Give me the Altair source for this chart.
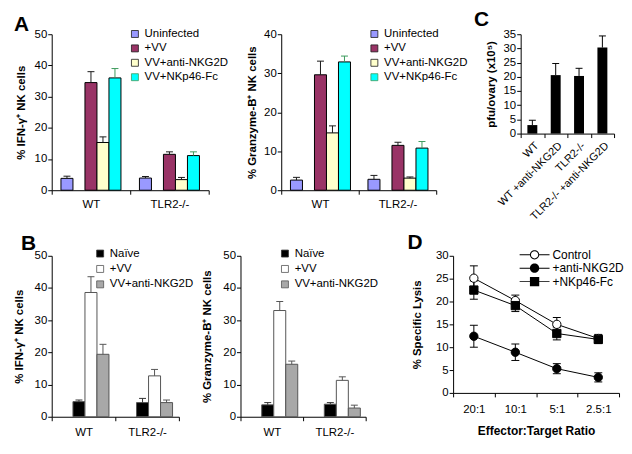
import altair as alt
import pandas as pd

FONT = "Liberation Sans"

# ---------------- data ----------------
groups = ["WT", "TLR2-/-"]

a_series = ["Uninfected", "+VV", "VV+anti-NKG2D", "VV+NKp46-Fc"]
a_fill = ["#9999ff", "#993366", "#ffffcc", "#00ffff"]
a_errc = ["#1a1a1a", "#1a1a1a", "#1a1a1a", "#3c9a5c"]

ifn_a_wt = [3.8, 34.5, 15.3, 36.0]
ifn_a_wt_top = [4.5, 38.0, 17.1, 39.0]
ifn_a_tlr = [3.9, 11.5, 3.4, 11.1]
ifn_a_tlr_top = [4.4, 12.3, 4.1, 12.3]

gzm_a_wt = [2.6, 29.6, 14.7, 32.9]
gzm_a_wt_top = [3.3, 33.1, 16.5, 34.4]
gzm_a_tlr = [2.8, 11.5, 3.1, 10.8]
gzm_a_tlr_top = [3.8, 12.3, 3.4, 12.5]

b_series = ["Naïve", "+VV", "VV+anti-NKG2D"]
b_fill = ["#000000", "#ffffff", "#a8a8a8"]
b_errc = ["#333333", "#555555", "#555555"]

ifn_b_wt = [4.7, 38.6, 19.4]
ifn_b_wt_top = [5.2, 43.5, 22.5]
ifn_b_tlr = [4.4, 12.7, 4.4]
ifn_b_tlr_top = [5.7, 14.7, 5.2]

gzm_b_wt = [3.7, 33.0, 16.3]
gzm_b_wt_top = [4.4, 35.8, 17.3]
gzm_b_tlr = [3.9, 11.3, 2.7]
gzm_b_tlr_top = [4.4, 12.4, 3.6]

c_cats = ["WT", "WT +anti-NKG2D", "TLR2-/-", "TLR2-/- +anti-NKG2D"]
c_vals = [3.0, 20.6, 20.3, 30.3]
c_tops = [4.7, 24.7, 23.0, 34.4]

d_ratios = ["20:1", "10:1", "5:1", "2.5:1"]
d_series = ["Control", "+anti-NKG2D", "+NKp46-Fc"]
d_shapes = ["circle", "circle", "square"]
d_fills = ["white", "black", "black"]
d_control = [25.1, 20.2, 15.0, 11.9]
d_control_err = [2.7, 1.2, 1.5, 0.9]
d_anti = [12.4, 8.9, 5.3, 3.4]
d_anti_err = [2.4, 1.8, 1.1, 1.0]
d_nkp = [22.5, 19.1, 13.0, 11.7]
d_nkp_err = [2.0, 1.3, 1.4, 0.9]

# legend glyphs for panel D (filled outlines): marker with a short line through it
STUBS = ("M-3.6,-0.12L-1.1,-0.12L-1.1,0.12L-3.6,0.12Z"
         "M1.1,-0.12L3.6,-0.12L3.6,0.12L1.1,0.12Z")
DISC = "M-1.12,0A1.12,1.12 0 1,1 1.12,0A1.12,1.12 0 1,1 -1.12,0Z"
HOLE = "M-0.88,0A0.88,0.88 0 1,0 0.88,0A0.88,0.88 0 1,0 -0.88,0Z"
SQUARE = "M-1.12,-1.12L1.12,-1.12L1.12,1.12L-1.12,1.12Z"
d_legend_shapes = [DISC + HOLE + STUBS, DISC + STUBS, SQUARE + STUBS]


def panel_title(letter, dx, dy):
    return alt.Title(letter, anchor="start", frame="group", dx=dx, dy=dy,
                     fontSize=21, fontWeight="bold", font=FONT,
                     baseline="alphabetic", offset=0, color="black")


def box_legend(lx, ly, row_pad, sym_stroke):
    return alt.Legend(title=None, orient="none", legendX=lx, legendY=ly,
                      direction="vertical", symbolType="square", symbolSize=49,
                      symbolStrokeColor=sym_stroke, symbolStrokeWidth=0.8,
                      labelFont=FONT, labelFontSize=11.5, labelColor="black",
                      labelOffset=4, rowPadding=row_pad, padding=0)


def grouped_bars(wt, wt_top, tlr, tlr_top, series, fills, errc, bar_stroke,
                 ymax, ystep, ytitle, w, h, pad_outer, title_pad,
                 lx, ly, row_pad, label_pad, title=None):
    df = pd.DataFrame({
        "group": [groups[0]] * len(series) + [groups[1]] * len(series),
        "series": series + series,
        "value": wt + tlr,
        "top": wt_top + tlr_top,
    })
    x = alt.X("group:N", sort=groups, title=None,
              scale=alt.Scale(paddingInner=0, paddingOuter=0),
              axis=alt.Axis(labelAngle=0, tickBand="extent", labelPadding=label_pad))
    xo = alt.XOffset("series:N", sort=series,
                     scale=alt.Scale(paddingInner=0, paddingOuter=pad_outer))
    yscale = alt.Scale(domain=[0, ymax], nice=False)
    yaxis = alt.Axis(values=list(range(0, ymax + 1, ystep)), titlePadding=title_pad)

    def Y(field):
        return alt.Y(field, title=ytitle, scale=yscale, axis=yaxis)

    base = alt.Chart(df)
    bars = base.mark_bar(stroke=bar_stroke, strokeWidth=1).encode(
        x=x, xOffset=xo, y=Y("value:Q"),
        fill=alt.Fill("series:N", sort=series,
                      scale=alt.Scale(domain=series, range=fills),
                      legend=box_legend(lx, ly, row_pad, bar_stroke)))
    err = base.mark_rule(strokeWidth=1).encode(
        x=x, xOffset=xo, y=Y("value:Q"), y2="top:Q",
        stroke=alt.Stroke("series:N", scale=alt.Scale(domain=series, range=errc),
                          legend=None))
    cap = base.mark_tick(size=7, thickness=1, opacity=1).encode(
        x=x, xOffset=xo, y=Y("top:Q"),
        color=alt.Color("series:N", scale=alt.Scale(domain=series, range=errc),
                        legend=None))
    ch = alt.layer(bars, err, cap).properties(width=w, height=h)
    if title is not None:
        ch = ch.properties(title=title)
    return ch


def spacer(w, h):
    return alt.Chart(pd.DataFrame({"s": [0]})).mark_text().encode(
        text=alt.value("")).properties(width=w, height=h)


A1 = grouped_bars(ifn_a_wt, ifn_a_wt_top, ifn_a_tlr, ifn_a_tlr_top, a_series,
                  a_fill, a_errc, "black", 50, 10, "% IFN-\u03b3\u207a NK cells",
                  158, 157, 0.77, 8, 78, -6, 1.5, 4,
                  title=panel_title("A", -38, 24))
A2 = grouped_bars(gzm_a_wt, gzm_a_wt_top, gzm_a_tlr, gzm_a_tlr_top, a_series,
                  a_fill, a_errc, "black", 40, 10, "% Granzyme-B\u207a NK cells",
                  156, 157, 0.74, 6, 88, -6, 1.5, 4)
B1 = grouped_bars(ifn_b_wt, ifn_b_wt_top, ifn_b_tlr, ifn_b_tlr_top, b_series,
                  b_fill, b_errc, "#555555", 50, 10, "% IFN-\u03b3\u207a NK cells",
                  128, 162, 0.73, 10, 43, -8, 2.5, 6,
                  title=panel_title("B", -31, 23))
B2 = grouped_bars(gzm_b_wt, gzm_b_wt_top, gzm_b_tlr, gzm_b_tlr_top, b_series,
                  b_fill, b_errc, "#555555", 50, 10, "% Granzyme-B\u207a NK cells",
                  126, 162, 0.73, 10, 39, -8, 2.5, 6)

# ---- panel C ----
c_df = pd.DataFrame({"cat": c_cats, "value": c_vals, "top": c_tops})
c_x = alt.X("cat:N", sort=c_cats, title=None,
            scale=alt.Scale(paddingInner=0, paddingOuter=0),
            axis=alt.Axis(labelAngle=315, tickBand="extent", labelPadding=2,
                          labelFontSize=11))
c_ys = alt.Scale(domain=[0, 35], nice=False)
c_ya = alt.Axis(values=list(range(0, 36, 5)), titlePadding=7)
c_title = "pfu/ovary (x10\u2075)"
c_base = alt.Chart(c_df)
C = alt.layer(
    c_base.mark_bar(color="black", width=10).encode(
        x=c_x, y=alt.Y("value:Q", title=c_title, scale=c_ys, axis=c_ya)),
    c_base.mark_rule(color="black", strokeWidth=1).encode(
        x=c_x, y=alt.Y("value:Q", title=c_title, scale=c_ys, axis=c_ya), y2="top:Q"),
    c_base.mark_tick(color="black", size=7, thickness=1, opacity=1).encode(
        x=c_x, y=alt.Y("top:Q", title=c_title, scale=c_ys, axis=c_ya)),
).properties(width=94, height=100, title=panel_title("C", -47, 19))

# ---- panel D ----
d_vals = d_control + d_anti + d_nkp
d_errs = d_control_err + d_anti_err + d_nkp_err
d_df = pd.DataFrame({
    "ratio": d_ratios * 3,
    "series": [s for s in d_series for _ in d_ratios],
    "value": d_vals,
    "lo": [v - e for v, e in zip(d_vals, d_errs)],
    "hi": [v + e for v, e in zip(d_vals, d_errs)],
})
d_df["series_pt"] = d_df["series"]
d_x = alt.X("ratio:N", sort=d_ratios, title="Effector:Target Ratio",
            scale=alt.Scale(paddingInner=0, paddingOuter=0),
            axis=alt.Axis(labelAngle=0, tickBand="extent", labelPadding=7,
                          titlePadding=10, titleFontSize=12))
d_ys = alt.Scale(domain=[0, 30], nice=False)
d_ya = alt.Axis(values=list(range(0, 31, 5)), titlePadding=13)
d_yt = "% Specific Lysis"


def DY(field):
    return alt.Y(field, title=d_yt, scale=d_ys, axis=d_ya)


d_base = alt.Chart(d_df)
d_legend = alt.Legend(title=None, orient="none", legendX=76, legendY=-7,
                      direction="vertical", symbolSize=70,
                      symbolStrokeColor="black", symbolStrokeWidth=0,
                      labelFont=FONT, labelFontSize=12, labelColor="black",
                      labelOffset=12, rowPadding=1.5, padding=0)
D = alt.layer(
    d_base.mark_rule(color="black", strokeWidth=1).encode(
        x=d_x, y=DY("lo:Q"), y2="hi:Q", detail="series:N"),
    d_base.mark_tick(color="black", size=8, thickness=1, opacity=1).encode(
        x=d_x, y=DY("lo:Q"), detail="series:N"),
    d_base.mark_tick(color="black", size=8, thickness=1, opacity=1).encode(
        x=d_x, y=DY("hi:Q"), detail="series:N"),
    d_base.mark_line(color="black", strokeWidth=1).encode(
        x=d_x, y=DY("value:Q"), detail="series:N"),
    d_base.mark_point(size=70, opacity=1, stroke="black", strokeWidth=1).encode(
        x=d_x, y=DY("value:Q"),
        shape=alt.Shape("series_pt:N", sort=d_series,
                        scale=alt.Scale(domain=d_series, range=d_shapes),
                        legend=None),
        fill=alt.Fill("series_pt:N", sort=d_series,
                      scale=alt.Scale(domain=d_series, range=d_fills),
                      legend=None)),
    # legend-only layer (no rows survive the filter; the legend comes from the scales)
    d_base.transform_filter("false").mark_point(
        size=70, opacity=1, color="black", strokeWidth=0).encode(
        x=d_x, y=DY("value:Q"),
        shape=alt.Shape("series:N", sort=d_series,
                        scale=alt.Scale(domain=d_series, range=d_legend_shapes),
                        legend=d_legend),
        fill=alt.Fill("series:N", sort=d_series,
                      scale=alt.Scale(domain=d_series, range=["black"] * 3),
                      legend=d_legend)),
).resolve_scale(shape="independent", fill="independent").properties(
    width=167, height=138, title=panel_title("D", -46, 21))

ind = "independent"


def row(*items):
    return alt.hconcat(*items, spacing=0, bounds="flush").resolve_scale(
        fill=ind, color=ind, stroke=ind, shape=ind
    ).resolve_legend(fill=ind, color=ind, stroke=ind, shape=ind)


top_row = row(A1, spacer(73, 1), A2, spacer(85, 1), C)
bottom_row = row(B1, spacer(62, 1), B2, spacer(88, 1), D)

chart = alt.vconcat(top_row, bottom_row, spacing=10).resolve_scale(
    fill=ind, color=ind, stroke=ind, shape=ind
).resolve_legend(
    fill=ind, color=ind, stroke=ind, shape=ind
).properties(
    padding={"left": 5, "top": 0, "right": 0, "bottom": 0}
).configure_view(stroke=None).configure_axis(
    labelFont=FONT, titleFont=FONT, labelFontSize=11.5, titleFontSize=11.5,
    titleFontWeight="bold", labelColor="black", titleColor="black",
    domainColor="black", tickColor="black", tickSize=4, grid=False,
    labelPadding=1, domainWidth=1, tickWidth=1
).configure_axisX(labelPadding=4)

chart.save("out.html", embed_options={"renderer": "svg", "actions": False})
